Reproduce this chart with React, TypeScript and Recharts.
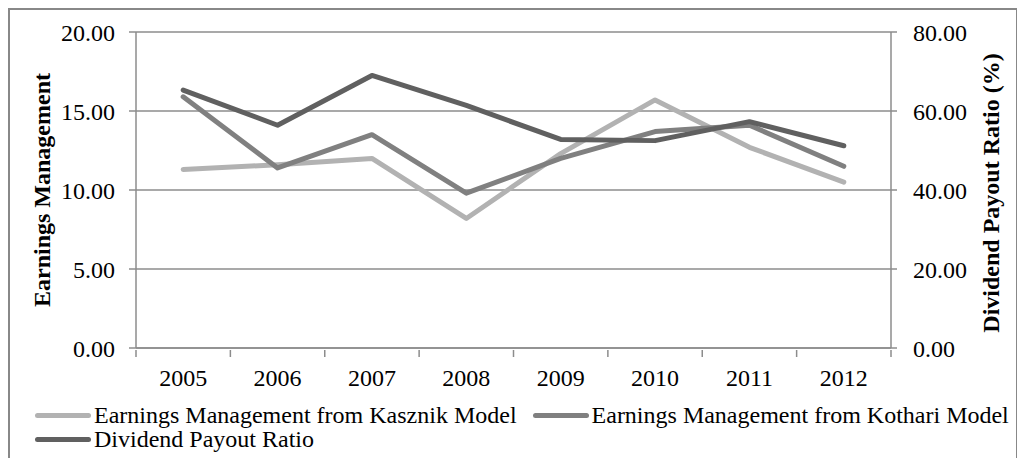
import React from 'react';
import { LineChart, Line, XAxis, YAxis, CartesianGrid, Legend } from 'recharts';

// values
const years = ['2005', '2006', '2007', '2008', '2009', '2010', '2011', '2012'];
const kasznik = [11.3, 11.6, 12.0, 8.2, 12.3, 15.7, 12.7, 10.5];
const kothari = [15.9, 11.4, 13.5, 9.8, 12.0, 13.7, 14.1, 11.5];
const payout = [65.3, 56.4, 69.0, 61.4, 52.8, 52.5, 57.3, 51.2];

const emTicks = [0, 5, 10, 15, 20];
const payoutTicks = [0, 20, 40, 60, 80];

const series = [
  { key: 'kasznik', name: 'Earnings Management from Kasznik Model', color: '#b2b2b2', axis: 'em' },
  { key: 'kothari', name: 'Earnings Management from Kothari Model', color: '#808080', axis: 'em' },
  { key: 'payout', name: 'Dividend Payout Ratio', color: '#606060', axis: 'dpr' },
];

const rows = years.map((year, i) => ({
  year,
  kasznik: kasznik[i],
  kothari: kothari[i],
  payout: payout[i],
}));

const FONT = '"Liberation Serif", "Times New Roman", serif';
const GRID = '#8c8c8c';
const CHART_W = 1006;
const CHART_H = 448;
const LEFT_W = 126;
const RIGHT_W = 125;
const STEP = (CHART_W - LEFT_W - RIGHT_W) / years.length;

// category label plus Excel-style tick marks on the band edges
const YearTick = (props: any) => {
  const { x, y, payload, index } = props;
  const last = index === years.length - 1;
  return (
    <g>
      <line x1={x - STEP / 2} x2={x - STEP / 2} y1={y} y2={y + 7} stroke={GRID} strokeWidth={1.5} />
      {last && <line x1={x + STEP / 2} x2={x + STEP / 2} y1={y} y2={y + 7} stroke={GRID} strokeWidth={1.5} />}
      <text x={x} y={y + 28} textAnchor="middle" dominantBaseline="central" fontFamily={FONT} fontSize={24} fill="#000">
        {payload.value}
      </text>
    </g>
  );
};

const SideTitle = (props: any) => {
  const { viewBox, text, cx, shift } = props;
  const cy = viewBox.y + viewBox.height / 2 + shift;
  return (
    <text
      transform={`translate(${cx},${cy}) rotate(-90)`}
      textAnchor="middle"
      dominantBaseline="central"
      fontFamily={FONT}
      fontWeight="bold"
      fontSize={24}
      fill="#000"
    >
      {text}
    </text>
  );
};

const LegendBox = () => (
  <div style={{ display: 'flex', flexWrap: 'wrap', columnGap: 16, width: 990, fontFamily: FONT, fontSize: 24, lineHeight: '24px' }}>
    {series.map((s) => (
      <div key={s.key} style={{ display: 'flex', alignItems: 'center' }}>
        <span style={{ display: 'inline-block', width: 56, height: 5, borderRadius: 3, background: s.color, marginRight: 3 }} />
        <span>{s.name}</span>
      </div>
    ))}
  </div>
);

export default function App() {
  return (
    <div style={{ width: CHART_W, height: CHART_H + 10, border: '2px solid #888', borderBottom: 'none', background: '#fff' }}>
      <LineChart width={CHART_W} height={CHART_H} data={rows} margin={{ top: 22, right: 0, bottom: 70, left: 0 }}>
        <CartesianGrid yAxisId="em" vertical={false} stroke={GRID} strokeWidth={1.5} />
        <XAxis
          dataKey="year"
          padding={{ left: STEP / 2, right: STEP / 2 }}
          height={40}
          tickLine={false}
          tickSize={0}
          tick={<YearTick />}
          axisLine={{ stroke: GRID, strokeWidth: 1.5 }}
          interval={0}
        />
        <YAxis
          yAxisId="em"
          width={LEFT_W}
          domain={[0, 20]}
          ticks={emTicks}
          tickFormatter={(v: number) => v.toFixed(2)}
          tickSize={7}
          tickMargin={14}
          axisLine={{ stroke: GRID, strokeWidth: 1.5 }}
          tickLine={{ stroke: GRID, strokeWidth: 1.5 }}
          tick={{ fontFamily: FONT, fontSize: 24, fill: '#000' }}
          label={<SideTitle text="Earnings Management" cx={32} shift={0} />}
        />
        <YAxis
          yAxisId="dpr"
          orientation="right"
          width={RIGHT_W}
          domain={[0, 80]}
          ticks={payoutTicks}
          tickFormatter={(v: number) => v.toFixed(2)}
          tickSize={6}
          tickMargin={16}
          axisLine={{ stroke: GRID, strokeWidth: 1.5 }}
          tickLine={{ stroke: GRID, strokeWidth: 1.5 }}
          tick={{ fontFamily: FONT, fontSize: 24, fill: '#000', textAnchor: 'start' }}
          label={<SideTitle text="Dividend Payout Ratio (%)" cx={981} shift={3} />}
        />
        {series.map((s) => (
          <Line
            key={s.key}
            yAxisId={s.axis}
            dataKey={s.key}
            name={s.name}
            stroke={s.color}
            strokeWidth={5}
            dot={false}
            strokeLinecap="round"
            strokeLinejoin="round"
            isAnimationActive={false}
          />
        ))}
        <Legend
          layout="horizontal"
          verticalAlign="middle"
          content={<LegendBox />}
          wrapperStyle={{ top: 393, left: 25, width: 990 }}
        />
      </LineChart>
    </div>
  );
}
